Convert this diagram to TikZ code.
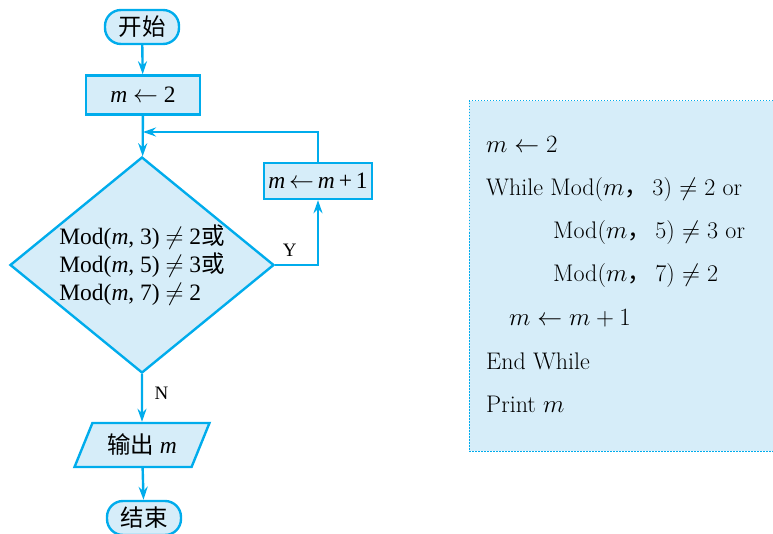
\documentclass[tikz,border=0pt]{standalone}
\usepackage{fontspec}
\newfontfamily\timesf{Liberation Serif}
\newfontfamily\cjk{Noto Sans CJK SC}
\usetikzlibrary{shapes.geometric, arrows.meta}
\definecolor{flowline}{RGB}{0,172,236}
\definecolor{flowfill}{RGB}{214,237,249}

\begin{document}
\begin{tikzpicture}[x=1pt, y=-1pt,
  every node/.style = {font=\timesf\fontsize{23.5}{28}\selectfont},
  base/.style = {draw=flowline, fill=flowfill, line width=2.4pt},
  term/.style = {base, rectangle, rounded corners=16pt, minimum width=74pt, minimum height=34pt},
  proc/.style = {base, rectangle, inner sep=2pt},
  cond/.style = {base, diamond, minimum width=264pt, minimum height=216pt, align=left, inner sep=-10pt},
  io/.style = {base, trapezium, trapezium left angle=64, trapezium right angle=116,
    trapezium stretches=true, minimum width=135pt, minimum height=44pt},
  arr/.style = {draw=flowline, line width=2.4pt, -{Stealth[length=13pt, width=9pt]}},
  lbl/.style = {font=\timesf\fontsize{19}{22}\selectfont},
  code/.style = {anchor=base west, inner sep=0pt, font=\fontsize{24}{28}\selectfont}]
  \useasboundingbox (0,0) rectangle (773,534);

  % flowchart
  \node[term] (start) at (142,27) {\cjk 开始};
  \node[proc, minimum width=114pt, minimum height=39pt] (init) at (143,95) {\textit{m} $\leftarrow$ 2};
  \node[cond] (test) at (142,265) {Mod(\textit{m}, 3) $\neq$ 2{\cjk 或}\\Mod(\textit{m}, 5) $\neq$ 3{\cjk 或}\\Mod(\textit{m}, 7) $\neq$ 2};
  \node[proc, minimum width=108pt, minimum height=36pt] (inc) at (318,181) {\textit{m}\,$\leftarrow$\,\textit{m}\,+\,1};
  \node[io] (out) at (142,445) {{\cjk 输出} \textit{m}};
  \node[term] (stop) at (144,518) {\cjk 结束};
  \coordinate (merge) at (142,132);

  \draw[arr] (start) -- (init);
  \draw[arr] (init) -- (test);
  \draw[arr] (test.east) -| node[lbl, pos=0.17, above=4pt] {Y} (inc.south);
  \draw[arr, shorten >=1pt] (inc.north) |- (merge);
  \draw[arr] (test.south) -- node[lbl, right=8pt, pos=0.4] {N} (out);
  \draw[arr] (out) -- (stop);

  % program
  \fill[flowfill] (469,101) rectangle (773,451);
  \draw[flowline, dash pattern=on 1.5pt off 1.5pt, line width=1pt] (773,101) -- (469,101) -- (469,451) -- (773,451);
  \node[code] (l1) at (486,153) {$m\leftarrow 2$};
  \node[code] (l2) at (486,196) {While Mod($m${\cjk ，}\hspace{4pt}3) $\neq$ 2 or};
  \node[code] (l3) at (553,239) {Mod($m${\cjk ，}\hspace{4pt}5) $\neq$ 3 or};
  \node[code] (l4) at (553,282) {Mod($m${\cjk ，}\hspace{4pt}7) $\neq$ 2};
  \node[code] (l5) at (509,326) {$m\leftarrow m+1$};
  \node[code] (l6) at (486,369) {End While};
  \node[code] (l7) at (486,412) {Print $m$};
\end{tikzpicture}
\end{document}
